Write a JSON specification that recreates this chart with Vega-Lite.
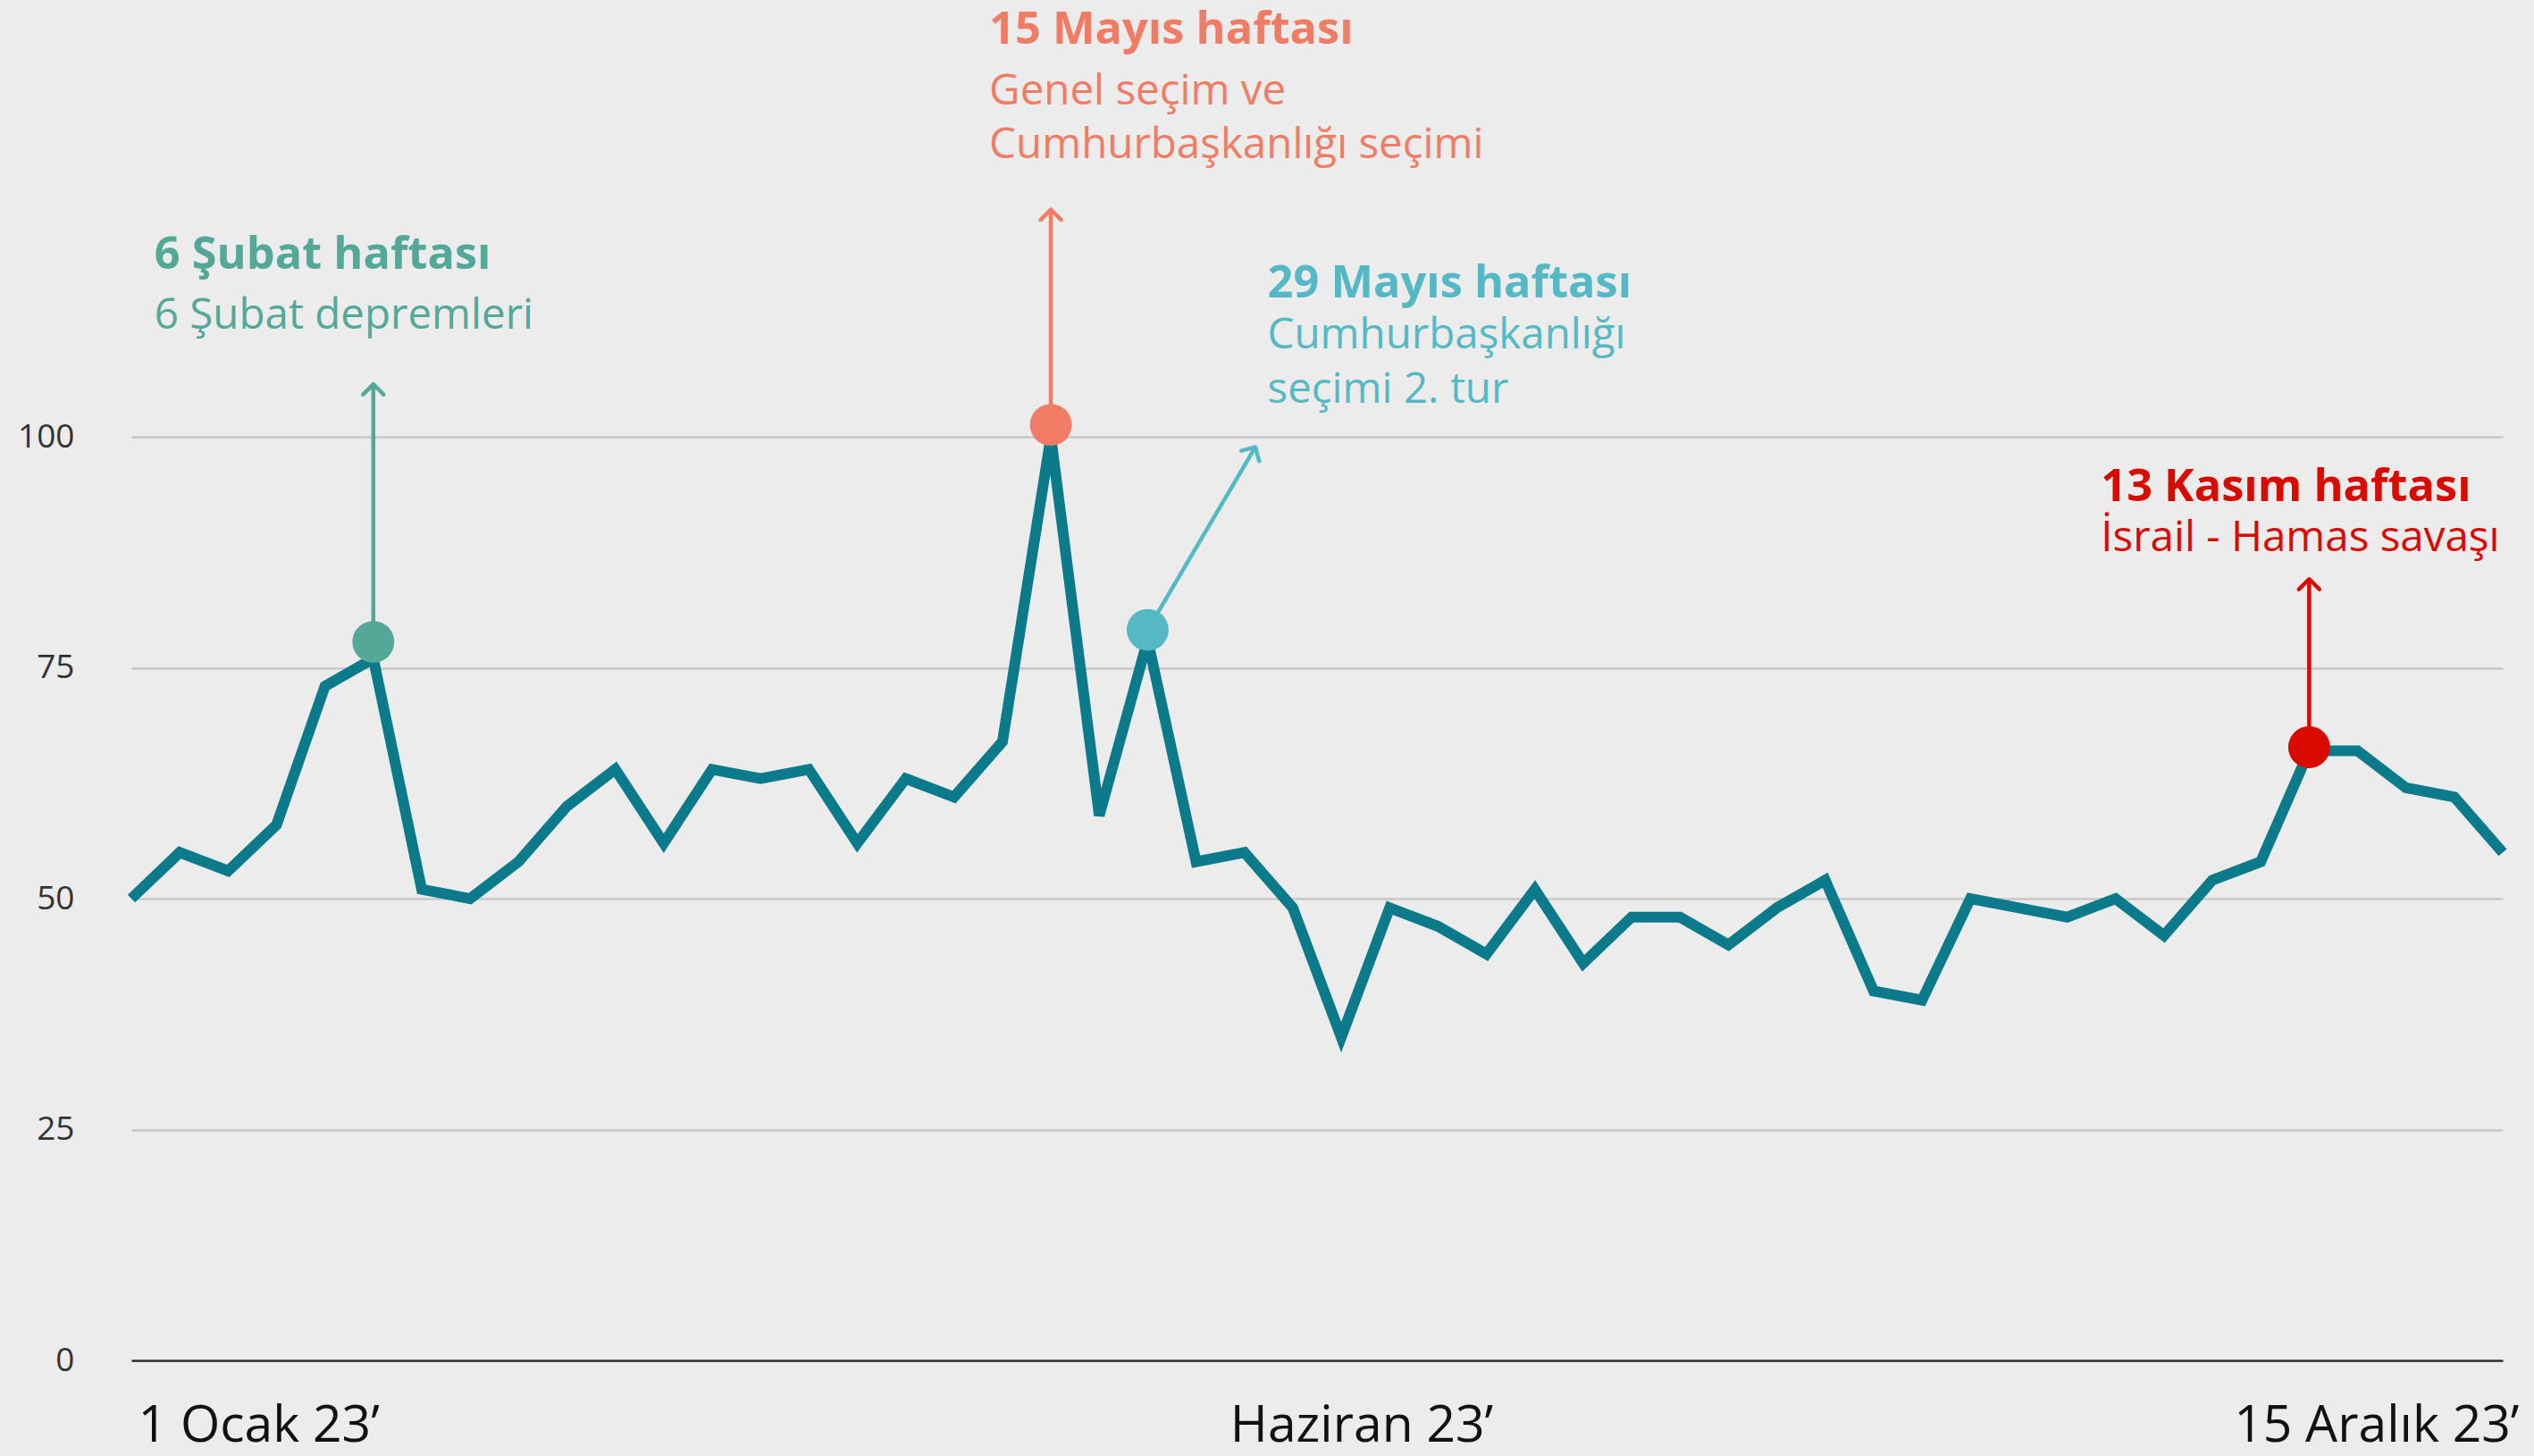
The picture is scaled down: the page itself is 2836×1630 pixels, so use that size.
{
  "$schema": "https://vega.github.io/schema/vega-lite/v6.json",
  "autosize": {"type": "none"},
  "width": 2654,
  "height": 1523,
  "padding": {"left": 147, "top": 0, "right": 35, "bottom": 107},
  "background": "#ececec",
  "config": {
    "view": {"stroke": null},
    "font": "Open Sans",
    "text": {"font": "Open Sans"}
  },
  "datasets": {
    "seri": [
      {"tarih": "2023-01-01T00:00:00", "deger": 50},
      {"tarih": "2023-01-08T00:00:00", "deger": 55},
      {"tarih": "2023-01-15T00:00:00", "deger": 53},
      {"tarih": "2023-01-22T00:00:00", "deger": 58},
      {"tarih": "2023-01-29T00:00:00", "deger": 73},
      {"tarih": "2023-02-05T00:00:00", "deger": 76},
      {"tarih": "2023-02-12T00:00:00", "deger": 51},
      {"tarih": "2023-02-19T00:00:00", "deger": 50},
      {"tarih": "2023-02-26T00:00:00", "deger": 54},
      {"tarih": "2023-03-05T00:00:00", "deger": 60},
      {"tarih": "2023-03-12T00:00:00", "deger": 64},
      {"tarih": "2023-03-19T00:00:00", "deger": 56},
      {"tarih": "2023-03-26T00:00:00", "deger": 64},
      {"tarih": "2023-04-02T00:00:00", "deger": 63},
      {"tarih": "2023-04-09T00:00:00", "deger": 64},
      {"tarih": "2023-04-16T00:00:00", "deger": 56},
      {"tarih": "2023-04-23T00:00:00", "deger": 63},
      {"tarih": "2023-04-30T00:00:00", "deger": 61},
      {"tarih": "2023-05-07T00:00:00", "deger": 67},
      {"tarih": "2023-05-14T00:00:00", "deger": 100},
      {"tarih": "2023-05-21T00:00:00", "deger": 59},
      {"tarih": "2023-05-28T00:00:00", "deger": 78},
      {"tarih": "2023-06-04T00:00:00", "deger": 54},
      {"tarih": "2023-06-11T00:00:00", "deger": 55},
      {"tarih": "2023-06-18T00:00:00", "deger": 49},
      {"tarih": "2023-06-25T00:00:00", "deger": 35},
      {"tarih": "2023-07-02T00:00:00", "deger": 49},
      {"tarih": "2023-07-09T00:00:00", "deger": 47},
      {"tarih": "2023-07-16T00:00:00", "deger": 44},
      {"tarih": "2023-07-23T00:00:00", "deger": 51},
      {"tarih": "2023-07-30T00:00:00", "deger": 43},
      {"tarih": "2023-08-06T00:00:00", "deger": 48},
      {"tarih": "2023-08-13T00:00:00", "deger": 48},
      {"tarih": "2023-08-20T00:00:00", "deger": 45},
      {"tarih": "2023-08-27T00:00:00", "deger": 49},
      {"tarih": "2023-09-03T00:00:00", "deger": 52},
      {"tarih": "2023-09-10T00:00:00", "deger": 40},
      {"tarih": "2023-09-17T00:00:00", "deger": 39},
      {"tarih": "2023-09-24T00:00:00", "deger": 50},
      {"tarih": "2023-10-01T00:00:00", "deger": 49},
      {"tarih": "2023-10-08T00:00:00", "deger": 48},
      {"tarih": "2023-10-15T00:00:00", "deger": 50},
      {"tarih": "2023-10-22T00:00:00", "deger": 46},
      {"tarih": "2023-10-29T00:00:00", "deger": 52},
      {"tarih": "2023-11-05T00:00:00", "deger": 54},
      {"tarih": "2023-11-12T00:00:00", "deger": 66},
      {"tarih": "2023-11-19T00:00:00", "deger": 66},
      {"tarih": "2023-11-26T00:00:00", "deger": 62},
      {"tarih": "2023-12-03T00:00:00", "deger": 61},
      {"tarih": "2023-12-10T00:00:00", "deger": 55}
    ],
    "olaylar": [
      {"olay": "6 Şubat", "tarih": "2023-02-05T00:00:00", "deger": 77.8, "ok_tarih": "2023-02-05T00:00:00", "ok_deger": 105.7},
      {"olay": "15 Mayıs", "tarih": "2023-05-14T00:00:00", "deger": 101.3, "ok_tarih": "2023-05-14T00:00:00", "ok_deger": 124.6},
      {"olay": "29 Mayıs", "tarih": "2023-05-28T00:00:00", "deger": 79.1, "ok_tarih": "2023-06-12T14:00:00", "ok_deger": 98.9},
      {"olay": "13 Kasım", "tarih": "2023-11-12T00:00:00", "deger": 66.4, "ok_tarih": "2023-11-12T00:00:00", "ok_deger": 84.6}
    ],
    "metinler": [
      {"olay": "6 Şubat", "satir": "baslik", "metin": "6 Şubat haftası", "tarih": "2023-01-04T08:00:00", "deger": 118.2},
      {"olay": "6 Şubat", "satir": "aciklama", "metin": "6 Şubat depremleri", "tarih": "2023-01-04T08:00:00", "deger": 111.7},
      {"olay": "15 Mayıs", "satir": "baslik", "metin": "15 Mayıs haftası", "tarih": "2023-05-05T02:00:00", "deger": 142.6},
      {"olay": "15 Mayıs", "satir": "aciklama", "metin": "Genel seçim ve", "tarih": "2023-05-05T02:00:00", "deger": 136.0},
      {"olay": "15 Mayıs", "satir": "aciklama", "metin": "Cumhurbaşkanlığı seçimi", "tarih": "2023-05-05T02:00:00", "deger": 130.2},
      {"olay": "29 Mayıs", "satir": "baslik", "metin": "29 Mayıs haftası", "tarih": "2023-06-14T08:00:00", "deger": 115.1},
      {"olay": "29 Mayıs", "satir": "aciklama", "metin": "Cumhurbaşkanlığı", "tarih": "2023-06-14T08:00:00", "deger": 109.6},
      {"olay": "29 Mayıs", "satir": "aciklama", "metin": "seçimi 2. tur", "tarih": "2023-06-14T08:00:00", "deger": 103.7},
      {"olay": "13 Kasım", "satir": "baslik", "metin": "13 Kasım haftası", "tarih": "2023-10-12T21:00:00", "deger": 93.0},
      {"olay": "13 Kasım", "satir": "aciklama", "metin": "İsrail - Hamas savaşı", "tarih": "2023-10-12T21:00:00", "deger": 87.6}
    ]
  },
  "layer": [
    {
      "data": {"name": "seri"},
      "mark": {"type": "line", "color": "#0b7a8b", "strokeWidth": 12, "strokeJoin": "miter"},
      "encoding": {
        "x": {
          "field": "tarih", "type": "temporal", "title": null,
          "scale": {"domain": [{"year": 2023, "month": 1, "date": 1}, {"year": 2023, "month": 12, "date": 10}], "nice": false},
          "axis": {
            "values": [{"year": 2023, "month": 1, "date": 1}, {"year": 2023, "month": 6, "date": 27}, {"year": 2023, "month": 12, "date": 10}],
            "labelExpr": "datum.index === 0 ? '1 Ocak 23’' : (datum.index === 1 ? '15 Aralık 23’' : 'Haziran 23’')",
            "grid": false, "ticks": false,
            "domain": true, "domainColor": "#333333", "domainWidth": 2.5,
            "labelFont": "Open Sans", "labelFontSize": 57, "labelColor": "#111111",
            "labelBaseline": "alphabetic", "labelPadding": 90, "labelLimit": 0,
            "labelFlush": true, "labelOverlap": false,
            "labelOffset": {"condition": {"test": "datum.index === 1", "value": 18}, "value": 7}
          }
        },
        "y": {
          "field": "deger", "type": "quantitative", "title": null,
          "scale": {"domain": [0, 147.3], "nice": false},
          "axis": {
            "values": [0, 25, 50, 75, 100],
            "grid": true, "gridColor": "#c8c8c8", "gridWidth": 2.5,
            "domain": false, "ticks": false,
            "labelFont": "Open Sans", "labelFontSize": 37, "labelColor": "#333333",
            "labelAlign": "right", "labelPadding": 64, "labelBaseline": "middle"
          }
        }
      }
    },
    {
      "data": {"name": "olaylar"},
      "mark": {"type": "rule", "strokeWidth": 4.5},
      "encoding": {
        "x": {"field": "tarih", "type": "temporal", "title": null},
        "x2": {"field": "ok_tarih"},
        "y": {"field": "deger", "type": "quantitative", "title": null},
        "y2": {"field": "ok_deger"},
        "color": {"field": "olay", "type": "nominal", "legend": null, "scale": {"domain": ["6 Şubat", "15 Mayıs", "29 Mayıs", "13 Kasım"], "range": ["#53a898", "#f07c65", "#55b9c5", "#d90a00"]}}
      }
    },
    {
      "data": {"name": "olaylar"},
      "mark": {"type": "point", "shape": "circle", "filled": true, "opacity": 1, "size": 2200},
      "encoding": {
        "x": {"field": "tarih", "type": "temporal", "title": null},
        "y": {"field": "deger", "type": "quantitative", "title": null},
        "color": {"field": "olay", "type": "nominal", "legend": null}
      }
    },
    {
      "data": {"name": "olaylar"},
      "transform": [{"filter": "datum.olay !== '29 Mayıs'"}],
      "mark": {"type": "point", "shape": "M -1 1 L 0 0 L 1 1", "filled": false, "opacity": 1, "size": 529, "strokeWidth": 4.5, "strokeCap": "round", "strokeJoin": "round"},
      "encoding": {
        "x": {"field": "ok_tarih", "type": "temporal", "title": null},
        "y": {"field": "ok_deger", "type": "quantitative", "title": null},
        "color": {"field": "olay", "type": "nominal", "legend": null}
      }
    },
    {
      "data": {"name": "olaylar"},
      "transform": [{"filter": "datum.olay === '29 Mayıs'"}],
      "mark": {"type": "point", "shape": "M -1 1 L 0 0 L 1 1", "filled": false, "opacity": 1, "size": 529, "strokeWidth": 4.5, "strokeCap": "round", "strokeJoin": "round", "angle": 30},
      "encoding": {
        "x": {"field": "ok_tarih", "type": "temporal", "title": null},
        "y": {"field": "ok_deger", "type": "quantitative", "title": null},
        "color": {"field": "olay", "type": "nominal", "legend": null}
      }
    },
    {
      "data": {"name": "metinler"},
      "transform": [{"filter": "datum.satir === 'baslik'"}],
      "mark": {"type": "text", "align": "left", "baseline": "alphabetic", "font": "Open Sans", "fontWeight": "bold", "fontSize": 50.5},
      "encoding": {
        "x": {"field": "tarih", "type": "temporal", "title": null},
        "y": {"field": "deger", "type": "quantitative", "title": null},
        "text": {"field": "metin"},
        "color": {"field": "olay", "type": "nominal", "legend": null}
      }
    },
    {
      "data": {"name": "metinler"},
      "transform": [{"filter": "datum.satir === 'aciklama'"}],
      "mark": {"type": "text", "align": "left", "baseline": "alphabetic", "font": "Open Sans", "fontWeight": "normal", "fontSize": 47.5},
      "encoding": {
        "x": {"field": "tarih", "type": "temporal", "title": null},
        "y": {"field": "deger", "type": "quantitative", "title": null},
        "text": {"field": "metin"},
        "color": {"field": "olay", "type": "nominal", "legend": null}
      }
    }
  ]
}
